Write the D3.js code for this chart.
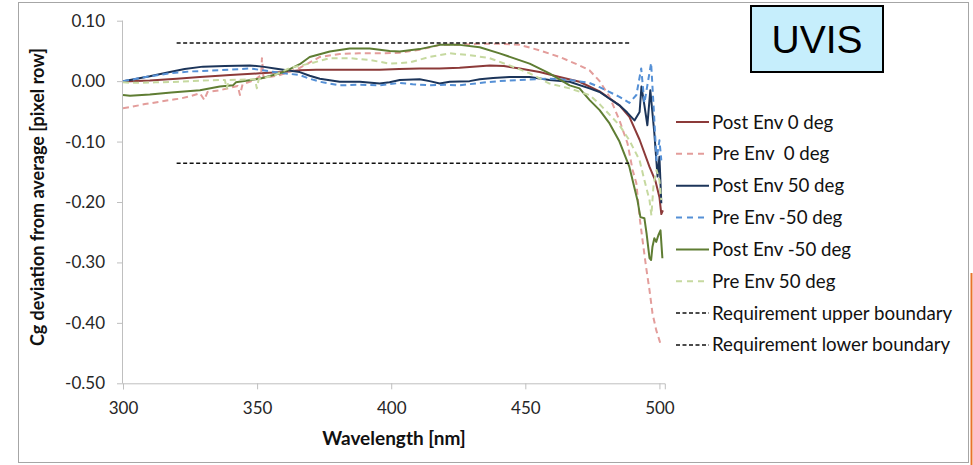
<!DOCTYPE html>
<html><head><meta charset="utf-8">
<script src="https://cdn.jsdelivr.net/npm/d3@7"></script>
<style>
html,body{margin:0;padding:0;background:#fff;}
svg{display:block;}
</style></head>
<body>
<svg id="chart" width="973" height="465"></svg>
<script>
// ---------- DATA ----------
const xTicks = [300, 350, 400, 450, 500];
const yTicks = [0.10, 0.00, -0.10, -0.20, -0.30, -0.40, -0.50];

const seriesNames = ["Post Env 0 deg", "Pre Env  0 deg", "Post Env 50 deg", "Pre Env -50 deg",
  "Post Env -50 deg", "Pre Env 50 deg", "Requirement upper boundary", "Requirement lower boundary"];

const postEnv0 = [[300,0.000],[302.6,0.000],[310,0.001],[320,0.004],[328.7,0.007],[340,0.010],[351,0.013],
  [360,0.015],[365.9,0.018],[372,0.019],[380.8,0.019],[390,0.019],[395.7,0.019],[403,0.020],[410.6,0.021],
  [418,0.021],[425.5,0.022],[436.7,0.026],[442,0.025],[447.9,0.021],[455.3,0.015],[462.8,0.007],
  [470.2,-0.001],[477.7,-0.017],[485.1,-0.040],[488.8,-0.059],[492.6,-0.097],[496.3,-0.142],
  [498.5,-0.165],[500,-0.192],[500.7,-0.220],[501.3,-0.214]];

const preEnv0 = [[300,-0.045],[302.6,-0.043],[308.2,-0.038],[313.8,-0.034],[319.4,-0.030],[321.2,-0.029],
  [325,-0.025],[328.7,-0.020],[330.3,-0.031],[331.5,-0.018],[336.1,-0.015],[340,-0.011],[342.8,-0.008],
  [343.6,-0.023],[344.6,-0.005],[349.2,0.002],[351.5,0.010],[351.8,0.038],[352.4,0.005],[358.5,0.010],
  [365.9,0.022],[373.4,0.040],[380.8,0.045],[388,0.046],[395.7,0.046],[403.2,0.047],[410.6,0.052],
  [418.1,0.060],[425.5,0.060],[433,0.062],[440.4,0.062],[447.9,0.060],[455.3,0.051],[462.8,0.040],
  [470.2,0.026],[473.9,0.018],[477.7,0.000],[481.4,-0.026],[485.1,-0.065],[488.1,-0.103],[490,-0.147],
  [491.4,-0.169],[492.6,-0.225],[493.7,-0.263],[495,-0.307],[496.3,-0.346],[497.4,-0.384],
  [498.8,-0.412],[500,-0.429],[500.7,-0.439]];

const postEnv50 = [[300,0.000],[302.6,0.002],[310,0.008],[317.5,0.015],[323,0.020],[329.8,0.024],
  [338,0.025],[347.3,0.026],[352,0.024],[356.6,0.021],[361,0.018],[365.9,0.015],[369.6,0.009],
  [373.4,0.004],[380.8,-0.001],[388.3,-0.001],[395.7,-0.004],[399.4,-0.002],[403.2,0.002],[410.6,0.003],
  [414.3,0.000],[418.1,-0.004],[421.8,-0.001],[429.2,0.000],[433,0.003],[438,0.005],[444.1,0.007],
  [451.6,0.007],[459,0.002],[466.5,-0.001],[473.9,-0.012],[477.7,-0.018],[485.1,-0.040],[488,-0.052],
  [490.7,-0.065],[492.6,-0.051],[493.3,-0.009],[494.4,-0.040],[495.5,-0.073],[496.6,-0.015],
  [498.1,-0.086],[499.3,-0.158],[500,-0.125],[500.7,-0.202]];

const preEnvM50 = [[300,0.000],[302.6,0.002],[310,0.008],[317.5,0.013],[325,0.016],[336.1,0.018],
  [347.3,0.021],[352,0.018],[356.6,0.015],[365.9,0.010],[369.6,0.004],[373.4,-0.001],[380.8,-0.007],
  [388,-0.006],[395.7,-0.007],[403.2,-0.003],[408,-0.005],[414.3,-0.007],[420,-0.006],[425.5,-0.007],
  [433,-0.003],[440,0.000],[447.9,0.002],[459,0.004],[466.5,0.002],[473.9,-0.003],[477.7,-0.010],
  [485.1,-0.026],[488.8,-0.036],[491.4,-0.023],[493.2,0.021],[494.4,-0.036],[496.9,0.030],
  [497.9,-0.048],[498.9,-0.131],[500,-0.098],[500.7,-0.131]];

const postEnvM50 = [[300,-0.023],[302.6,-0.024],[310,-0.022],[318,-0.019],[328.7,-0.015],[336.1,-0.009],
  [341,-0.007],[342.1,-0.002],[351,0.004],[358.5,0.013],[362.2,0.020],[365.9,0.028],[369.6,0.040],
  [377.1,0.049],[384.5,0.054],[392,0.054],[399.4,0.050],[403.2,0.049],[410.6,0.053],[418.1,0.060],
  [425.5,0.060],[433,0.056],[440.4,0.046],[451.6,0.029],[459,0.013],[466.5,-0.007],[470.2,-0.012],
  [473.9,-0.031],[477.7,-0.048],[481.4,-0.070],[485.1,-0.100],[488.8,-0.142],[491.8,-0.197],
  [492.9,-0.225],[494.4,-0.227],[495.2,-0.252],[496.3,-0.293],[496.9,-0.296],[497.4,-0.274],
  [498.1,-0.260],[498.8,-0.266],[499.6,-0.255],[500.4,-0.247],[501.1,-0.293]];

const preEnv50 = [[300,-0.002],[302.6,-0.003],[312,-0.002],[321.2,-0.001],[330,0.001],[338,0.002],
  [338.6,-0.012],[339.6,0.002],[349.2,0.003],[349.9,-0.012],[350.6,0.003],[356.6,0.010],[362.2,0.022],
  [369.6,0.029],[377.1,0.038],[384.5,0.038],[392,0.035],[399.4,0.029],[406.9,0.031],[414.3,0.040],
  [421.8,0.046],[429.2,0.043],[436.7,0.038],[444.1,0.026],[451.6,0.013],[459,-0.004],[466.5,-0.012],
  [473.9,-0.023],[477.7,-0.038],[485.1,-0.073],[488.8,-0.098],[492.6,-0.131],[494.4,-0.164],
  [496.3,-0.197],[497,-0.222],[497.8,-0.172],[498.9,-0.147],[500,-0.164],[500.7,-0.197]];

const reqUpper = [[320,0.063],[489.6,0.063]];
const reqLower = [[320,-0.136],[489,-0.136]];

// ---------- STYLES ----------
const styles = [
  {data: postEnv0,   color: "#8c3a39", width: 2,   dash: null},
  {data: preEnv0,    color: "#e39d9b", width: 2,   dash: "6,4"},
  {data: postEnv50,  color: "#1c355a", width: 2,   dash: null},
  {data: preEnvM50,  color: "#5590d6", width: 2,   dash: "6,4"},
  {data: postEnvM50, color: "#5f7d33", width: 2,   dash: null},
  {data: preEnv50,   color: "#c6d9a0", width: 2,   dash: "6,4"},
  {data: reqUpper,   color: "#111111", width: 1.5, dash: "4,2.5"},
  {data: reqLower,   color: "#111111", width: 1.5, dash: "4,2.5"}
];

const svg = d3.select("#chart");
const FONT = "Lato, 'Open Sans', sans-serif";

// outer frame
svg.append("rect").attr("x",18.5).attr("y",2.5).attr("width",950).attr("height",460)
  .attr("fill","none").attr("stroke","#a6a6a6").attr("stroke-width",1);
svg.append("line").attr("x1",971.5).attr("x2",971.5).attr("y1",273).attr("y2",465)
  .attr("stroke","#e8742a").attr("stroke-width",2);

const x = d3.scaleLinear().domain([300, 502]).range([123, 664.8]);
const y = d3.scaleLinear().domain([0.10, -0.50]).range([20.7, 383.3]);

// axes
const axisColor = "#bfbfbf";
const fmtY = d => d3.format(".2f")(d).replace("\u2212", "-");
const yAxis = svg.append("g").attr("transform","translate(123,0)")
  .call(d3.axisLeft(y).tickValues(yTicks).tickSize(6).tickFormat(fmtY));
const xAxis = svg.append("g").attr("transform","translate(0,383.3)")
  .call(d3.axisBottom(x).tickValues(xTicks).tickSize(6).tickFormat(d3.format("d")));
[yAxis, xAxis].forEach(g => {
  g.select(".domain").attr("stroke", axisColor).attr("stroke-width",1);
  g.selectAll(".tick line").attr("stroke", axisColor);
  g.selectAll(".tick text").attr("fill","#262626").attr("font-family",FONT).attr("font-size",17);
});
yAxis.select(".domain").attr("d", "M-0.5,20.7V383.3");
yAxis.selectAll(".tick text").attr("x",-18);
xAxis.selectAll(".tick text").attr("y",19);

// axis titles
svg.append("text").attr("x",394).attr("y",445).attr("text-anchor","middle")
  .attr("font-family",FONT).attr("font-weight","bold").attr("font-size",19).attr("fill","#111")
  .text("Wavelength [nm]");
svg.append("text").attr("transform","translate(44,197) rotate(-90)").attr("text-anchor","middle")
  .attr("font-family",FONT).attr("font-weight","bold").attr("font-size",18).attr("fill","#111")
  .text("Cg deviation from average [pixel row]");

// series
const line = d3.line().x(d => x(d[0])).y(d => y(d[1]));
styles.forEach(s => {
  svg.append("path").datum(s.data).attr("d", line).attr("fill","none")
    .attr("stroke", s.color).attr("stroke-width", s.width)
    .attr("stroke-dasharray", s.dash).attr("stroke-linejoin","round");
});

// legend
const legY0 = 122, legStep = 31.85;
seriesNames.forEach((name, i) => {
  const s = styles[i];
  const ly = legY0 + i * legStep;
  const dashL = i >= 6 ? "4,2.5" : (s.dash ? "6,5" : null);
  svg.append("line").attr("x1",676).attr("x2",709).attr("y1",ly).attr("y2",ly)
    .attr("stroke", s.color).attr("stroke-width", i >= 6 ? 1.5 : 2).attr("stroke-dasharray", dashL);
  svg.append("text").attr("x",712).attr("y",ly).attr("dy","0.35em")
    .attr("font-family",FONT).attr("font-size",18.7).attr("fill","#111")
    .attr("xml:space","preserve").style("white-space","pre").text(name);
});

// UVIS box
svg.append("rect").attr("x",751).attr("y",6).attr("width",132).attr("height",66)
  .attr("fill","#c6eefc").attr("stroke","#000").attr("stroke-width",2);
svg.append("text").attr("x",817).attr("y",53).attr("text-anchor","middle")
  .attr("font-family","'Liberation Sans', Arial, sans-serif").attr("font-size",39).attr("fill","#000")
  .text("UVIS");
</script>
</body></html>
